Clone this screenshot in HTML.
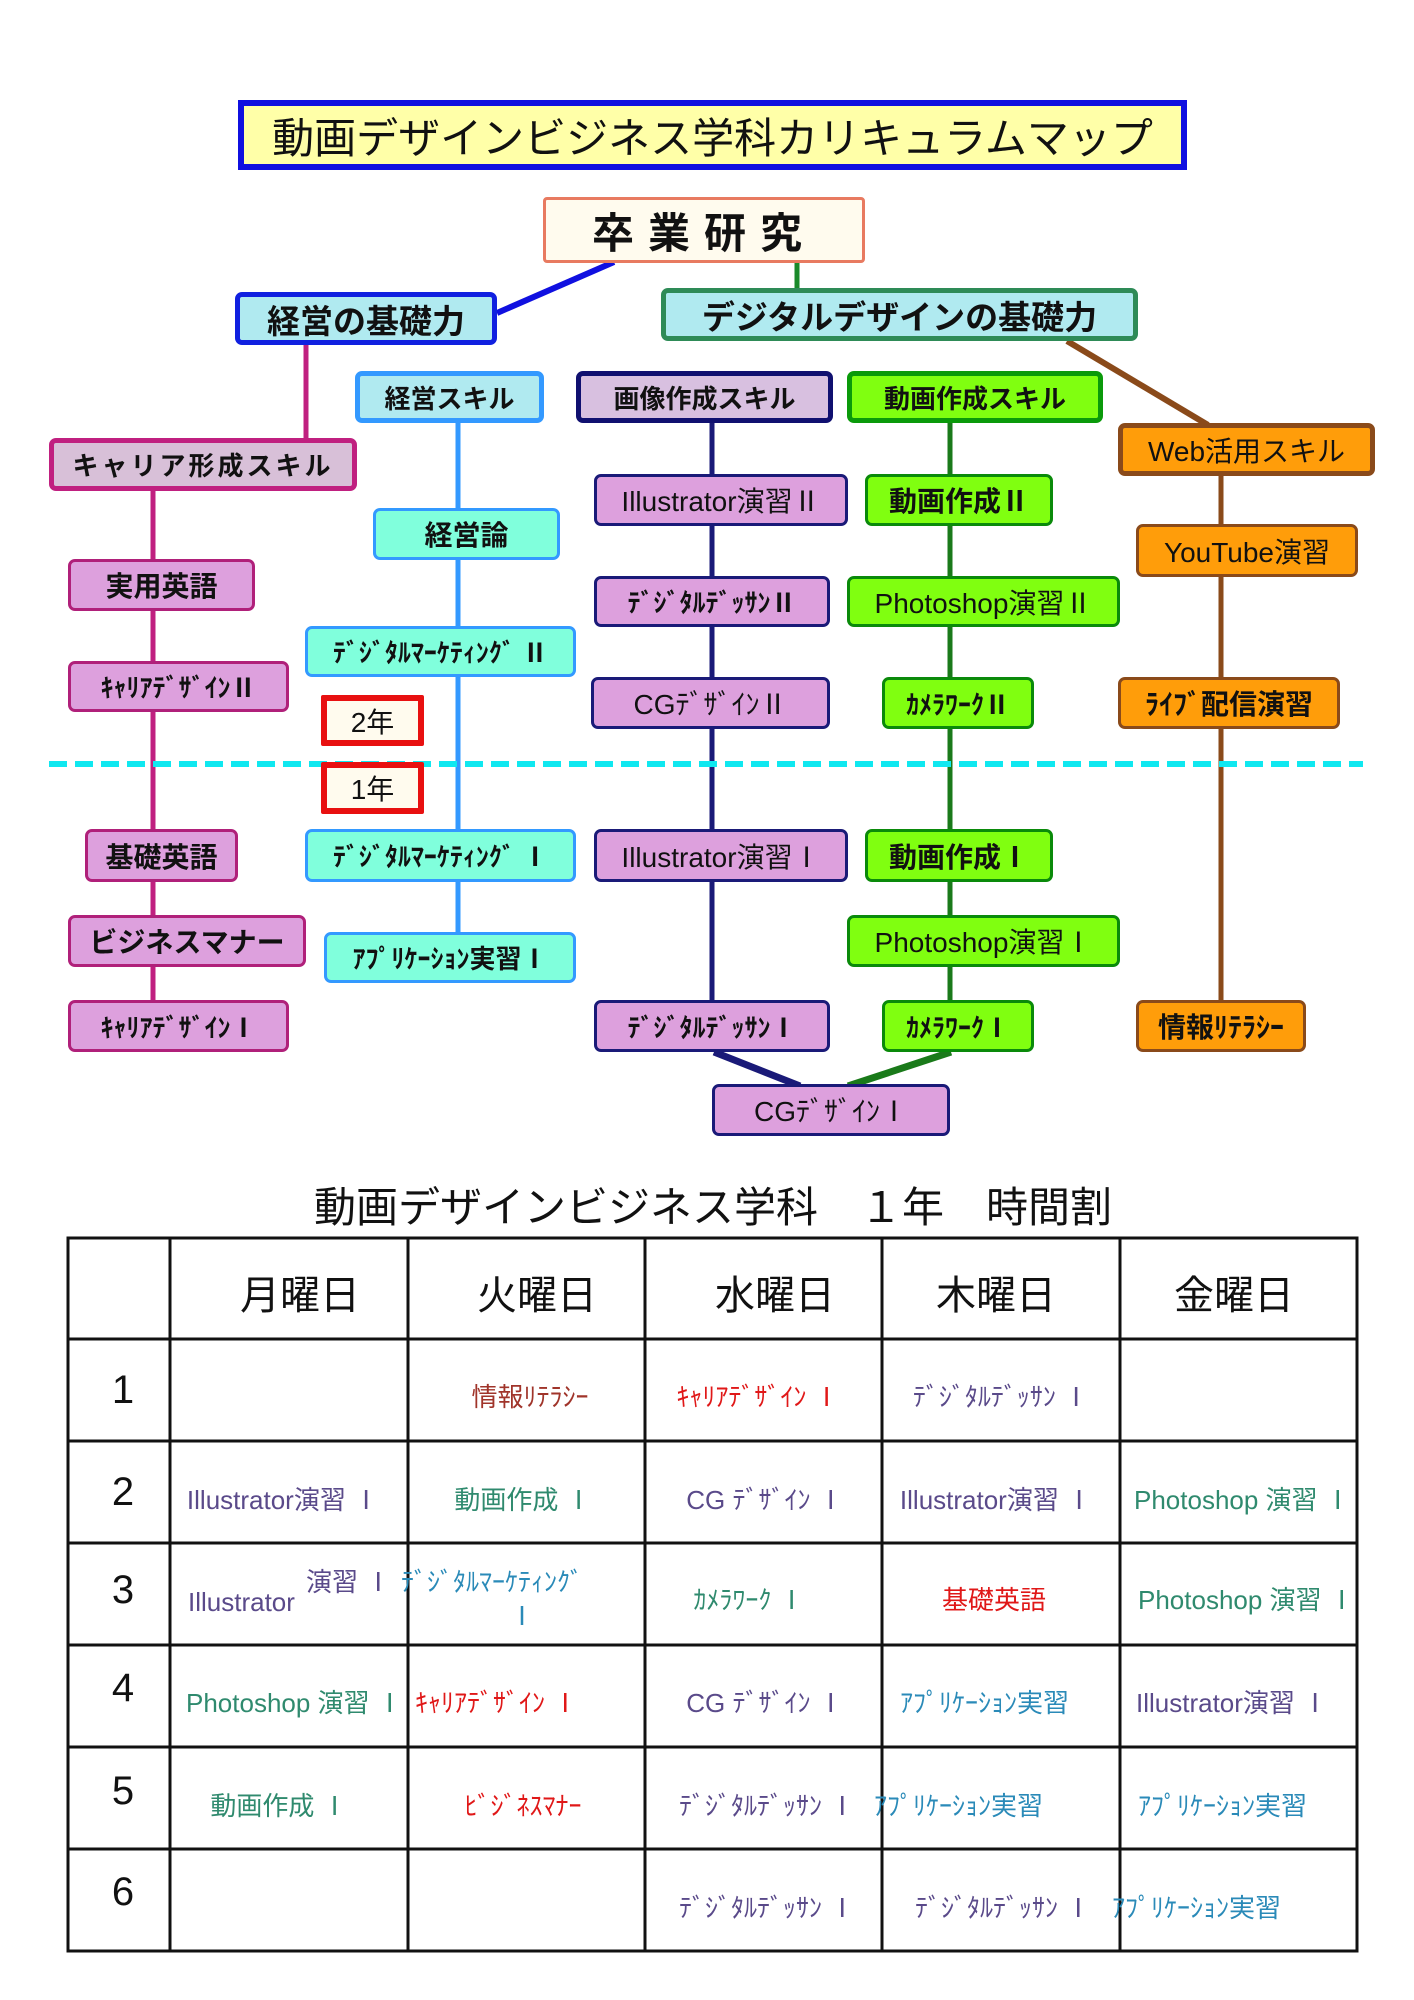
<!DOCTYPE html>
<html><head><meta charset="utf-8">
<style>
body{margin:0;width:1414px;height:2000px;background:#fff;position:relative;overflow:hidden;font-family:"Liberation Sans","Noto Sans CJK JP",sans-serif;}
.n{position:absolute;box-sizing:border-box;display:flex;align-items:center;justify-content:center;font-weight:bold;color:#111;border-radius:7px;border:3px solid;white-space:nowrap;font-size:26px;letter-spacing:0px;}
.p{background:#dda0dd;border-color:#b0207a;}
.v{background:#dda0dd;border-color:#1a1a78;}
.g{background:#80ff10;border-color:#0a8a0a;}
.o{background:#ff9d0a;border-color:#8a4a1a;}
.c{background:#80ffdc;border-color:#3399ff;}
.t{position:absolute;white-space:nowrap;font-size:26px;transform:translateY(-50%);line-height:1;}
.cc{transform:translate(-50%,-50%);}
.pu{color:#5a4a8a}.te{color:#2f8a6e}.re{color:#e01818}.br{color:#a0342a}.bl{color:#2a8ab8}
.h{position:absolute;font-size:40px;transform:translate(-50%,-50%);line-height:1;color:#111;white-space:nowrap;}
</style></head><body>
<svg width="1414" height="2000" style="position:absolute;left:0;top:0">
<line x1="614" y1="262" x2="497" y2="313" stroke="#1010e0" stroke-width="6"/>
<line x1="797" y1="262" x2="797" y2="290" stroke="#1a8a2a" stroke-width="5"/>
<line x1="1067" y1="341" x2="1208" y2="425" stroke="#8a4a1a" stroke-width="6"/>
<line x1="306" y1="345" x2="306" y2="440" stroke="#c02080" stroke-width="5"/>
<line x1="153" y1="491" x2="153" y2="1002" stroke="#c02080" stroke-width="5"/>
<line x1="458" y1="423" x2="458" y2="934" stroke="#3399ff" stroke-width="5"/>
<line x1="712" y1="423" x2="712" y2="1002" stroke="#1a1a78" stroke-width="5"/>
<line x1="950" y1="423" x2="950" y2="1002" stroke="#1a7a1a" stroke-width="5"/>
<line x1="1221" y1="476" x2="1221" y2="1002" stroke="#8a4a1a" stroke-width="5"/>
<line x1="714" y1="1052" x2="800" y2="1086" stroke="#1a1a78" stroke-width="7"/>
<line x1="951" y1="1052" x2="848" y2="1086" stroke="#1a7a1a" stroke-width="7"/>
<line x1="49" y1="764" x2="1363" y2="764" stroke="#10e8f0" stroke-width="6" stroke-dasharray="18 8"/>
</svg>

<div class="n" style="left:238px;top:100px;width:949px;height:70px;background:#ffffa8;border:6px solid #1010e0;border-radius:0;font-weight:normal;font-size:42px;">動画デザインビジネス学科カリキュラムマップ</div>
<div class="n" style="left:543px;top:197px;width:322px;height:66px;background:#fffbee;border-color:#e87a60;border-radius:4px;font-size:42px;letter-spacing:14px;">卒業研究</div>
<div class="n" style="left:235px;top:292px;width:262px;height:53px;background:#b0eaf0;border:5px solid #1020e0;font-size:33px;">経営の基礎力</div>
<div class="n" style="left:661px;top:288px;width:477px;height:53px;background:#b0eaf0;border:5px solid #2e8b57;font-size:33px;">デジタルデザインの基礎力</div>
<div class="n" style="left:355px;top:371px;width:189px;height:52px;background:#b0eaf0;border:5px solid #3399ff;">経営スキル</div>
<div class="n" style="left:576px;top:371px;width:257px;height:52px;background:#d8c0e0;border:5px solid #101070;">画像作成スキル</div>
<div class="n" style="left:847px;top:371px;width:256px;height:52px;background:#80ff10;border:5px solid #0a9a0a;">動画作成スキル</div>
<div class="n" style="left:1118px;top:423px;width:257px;height:53px;background:#ff9d0a;border:5px solid #8a4a1a;font-weight:normal;font-size:28px;">Web活用スキル</div>
<div class="n" style="left:49px;top:438px;width:308px;height:53px;background:#d8c0d8;border:5px solid #c02080;letter-spacing:3px;">キャリア形成スキル</div>

<div class="n p" style="left:68px;top:559px;width:187px;height:52px;font-size:28px;">実用英語</div>
<div class="n p" style="left:68px;top:661px;width:221px;height:51px;">ｷｬﾘｱﾃﾞｻﾞｲﾝⅡ</div>
<div class="n p" style="left:85px;top:829px;width:153px;height:53px;font-size:28px;">基礎英語</div>
<div class="n p" style="left:68px;top:915px;width:238px;height:52px;font-size:28px;">ビジネスマナー</div>
<div class="n p" style="left:68px;top:1000px;width:221px;height:52px;">ｷｬﾘｱﾃﾞｻﾞｲﾝⅠ</div>

<div class="n c" style="left:373px;top:508px;width:187px;height:52px;font-size:28px;">経営論</div>
<div class="n c" style="left:305px;top:626px;width:271px;height:51px;">ﾃﾞｼﾞﾀﾙﾏｰｹﾃｨﾝｸﾞ Ⅱ</div>
<div class="n c" style="left:305px;top:829px;width:271px;height:53px;">ﾃﾞｼﾞﾀﾙﾏｰｹﾃｨﾝｸﾞ Ⅰ</div>
<div class="n c" style="left:324px;top:932px;width:252px;height:51px;">ｱﾌﾟﾘｹｰｼｮﾝ実習Ⅰ</div>

<div class="n" style="left:321px;top:695px;width:103px;height:51px;background:#fffbee;border:6px solid #e81010;border-radius:2px;font-weight:normal;font-size:28px;">2年</div>
<div class="n" style="left:321px;top:762px;width:103px;height:52px;background:#fffbee;border:6px solid #e81010;border-radius:2px;font-weight:normal;font-size:28px;">1年</div>

<div class="n v" style="left:594px;top:474px;width:254px;height:52px;font-weight:normal;font-size:28px;">Illustrator演習Ⅱ</div>
<div class="n v" style="left:594px;top:576px;width:236px;height:51px;">ﾃﾞｼﾞﾀﾙﾃﾞｯｻﾝⅡ</div>
<div class="n v" style="left:591px;top:677px;width:239px;height:52px;font-weight:normal;font-size:28px;">CGﾃﾞｻﾞｲﾝⅡ</div>
<div class="n v" style="left:594px;top:829px;width:254px;height:53px;font-weight:normal;font-size:28px;">Illustrator演習Ⅰ</div>
<div class="n v" style="left:594px;top:1000px;width:236px;height:52px;">ﾃﾞｼﾞﾀﾙﾃﾞｯｻﾝⅠ</div>
<div class="n v" style="left:712px;top:1084px;width:238px;height:52px;font-weight:normal;font-size:28px;">CGﾃﾞｻﾞｲﾝⅠ</div>

<div class="n g" style="left:865px;top:474px;width:188px;height:52px;font-size:28px;">動画作成Ⅱ</div>
<div class="n g" style="left:847px;top:576px;width:273px;height:51px;font-weight:normal;font-size:28px;">Photoshop演習Ⅱ</div>
<div class="n g" style="left:882px;top:677px;width:152px;height:52px;">ｶﾒﾗﾜｰｸⅡ</div>
<div class="n g" style="left:865px;top:829px;width:188px;height:53px;font-size:28px;">動画作成Ⅰ</div>
<div class="n g" style="left:847px;top:915px;width:273px;height:52px;font-weight:normal;font-size:28px;">Photoshop演習Ⅰ</div>
<div class="n g" style="left:882px;top:1000px;width:152px;height:52px;">ｶﾒﾗﾜｰｸⅠ</div>

<div class="n o" style="left:1136px;top:524px;width:222px;height:53px;font-weight:normal;font-size:28px;">YouTube演習</div>
<div class="n o" style="left:1118px;top:677px;width:222px;height:52px;font-size:28px;">ﾗｲﾌﾞ配信演習</div>
<div class="n o" style="left:1136px;top:1000px;width:170px;height:52px;font-size:28px;">情報ﾘﾃﾗｼｰ</div>

<div class="h" style="left:713px;top:1208px;font-size:42px;">動画デザインビジネス学科　１年　時間割</div>

<svg width="1414" height="2000" style="position:absolute;left:0;top:0">
<g stroke="#111" stroke-width="3" fill="none">
<rect x="68" y="1238" width="1289" height="713"/>
<line x1="170" y1="1238" x2="170" y2="1951"/><line x1="408" y1="1238" x2="408" y2="1951"/>
<line x1="645" y1="1238" x2="645" y2="1951"/><line x1="882" y1="1238" x2="882" y2="1951"/>
<line x1="1120" y1="1238" x2="1120" y2="1951"/>
<line x1="68" y1="1339" x2="1357" y2="1339"/><line x1="68" y1="1441" x2="1357" y2="1441"/>
<line x1="68" y1="1543" x2="1357" y2="1543"/><line x1="68" y1="1645" x2="1357" y2="1645"/>
<line x1="68" y1="1747" x2="1357" y2="1747"/><line x1="68" y1="1849" x2="1357" y2="1849"/>
</g></svg>

<div class="h" style="left:300px;top:1296px;">月曜日</div>
<div class="h" style="left:537px;top:1296px;">火曜日</div>
<div class="h" style="left:775px;top:1296px;">水曜日</div>
<div class="h" style="left:996px;top:1296px;">木曜日</div>
<div class="h" style="left:1234px;top:1296px;">金曜日</div>
<div class="h" style="left:123px;top:1390px;">1</div>
<div class="h" style="left:123px;top:1492px;">2</div>
<div class="h" style="left:123px;top:1590px;">3</div>
<div class="h" style="left:123px;top:1688px;">4</div>
<div class="h" style="left:123px;top:1791px;">5</div>
<div class="h" style="left:123px;top:1892px;">6</div>

<div class="t cc br" style="left:530px;top:1397px;">情報ﾘﾃﾗｼｰ</div>
<div class="t cc re" style="left:758px;top:1397px;">ｷｬﾘｱﾃﾞｻﾞｲﾝ Ⅰ</div>
<div class="t cc pu" style="left:1001px;top:1397px;">ﾃﾞｼﾞﾀﾙﾃﾞｯｻﾝ Ⅰ</div>

<div class="t cc pu" style="left:283px;top:1500px;">Illustrator演習 Ⅰ</div>
<div class="t cc te" style="left:523px;top:1500px;">動画作成 Ⅰ</div>
<div class="t cc pu" style="left:765px;top:1500px;">CG ﾃﾞｻﾞｲﾝ Ⅰ</div>
<div class="t cc pu" style="left:996px;top:1500px;">Illustrator演習 Ⅰ</div>
<div class="t te" style="left:1134px;top:1500px;">Photoshop 演習 Ⅰ</div>

<div class="t pu" style="left:188px;top:1602px;">Illustrator</div>
<div class="t pu" style="left:306px;top:1582px;">演習 Ⅰ</div>
<div class="t bl" style="left:401px;top:1582px;">ﾃﾞｼﾞﾀﾙﾏｰｹﾃｨﾝｸﾞ</div>
<div class="t cc bl" style="left:522px;top:1616px;">Ⅰ</div>
<div class="t cc te" style="left:749px;top:1600px;">ｶﾒﾗﾜｰｸ Ⅰ</div>
<div class="t cc re" style="left:994px;top:1600px;">基礎英語</div>
<div class="t te" style="left:1138px;top:1600px;">Photoshop 演習 Ⅰ</div>

<div class="t te" style="left:186px;top:1703px;">Photoshop 演習 Ⅰ</div>
<div class="t re" style="left:415px;top:1703px;">ｷｬﾘｱﾃﾞｻﾞｲﾝ Ⅰ</div>
<div class="t cc pu" style="left:765px;top:1703px;">CG ﾃﾞｻﾞｲﾝ Ⅰ</div>
<div class="t bl" style="left:900px;top:1703px;">ｱﾌﾟﾘｹｰｼｮﾝ実習</div>
<div class="t pu" style="left:1136px;top:1703px;">Illustrator演習 Ⅰ</div>

<div class="t cc te" style="left:279px;top:1806px;">動画作成 Ⅰ</div>
<div class="t cc re" style="left:523px;top:1806px;">ﾋﾞｼﾞﾈｽﾏﾅｰ</div>
<div class="t pu" style="left:679px;top:1806px;">ﾃﾞｼﾞﾀﾙﾃﾞｯｻﾝ Ⅰ</div>
<div class="t bl" style="left:874px;top:1806px;">ｱﾌﾟﾘｹｰｼｮﾝ実習</div>
<div class="t bl" style="left:1138px;top:1806px;">ｱﾌﾟﾘｹｰｼｮﾝ実習</div>

<div class="t pu" style="left:679px;top:1908px;">ﾃﾞｼﾞﾀﾙﾃﾞｯｻﾝ Ⅰ</div>
<div class="t pu" style="left:915px;top:1908px;">ﾃﾞｼﾞﾀﾙﾃﾞｯｻﾝ Ⅰ</div>
<div class="t bl" style="left:1112px;top:1908px;">ｱﾌﾟﾘｹｰｼｮﾝ実習</div>
</body></html>
